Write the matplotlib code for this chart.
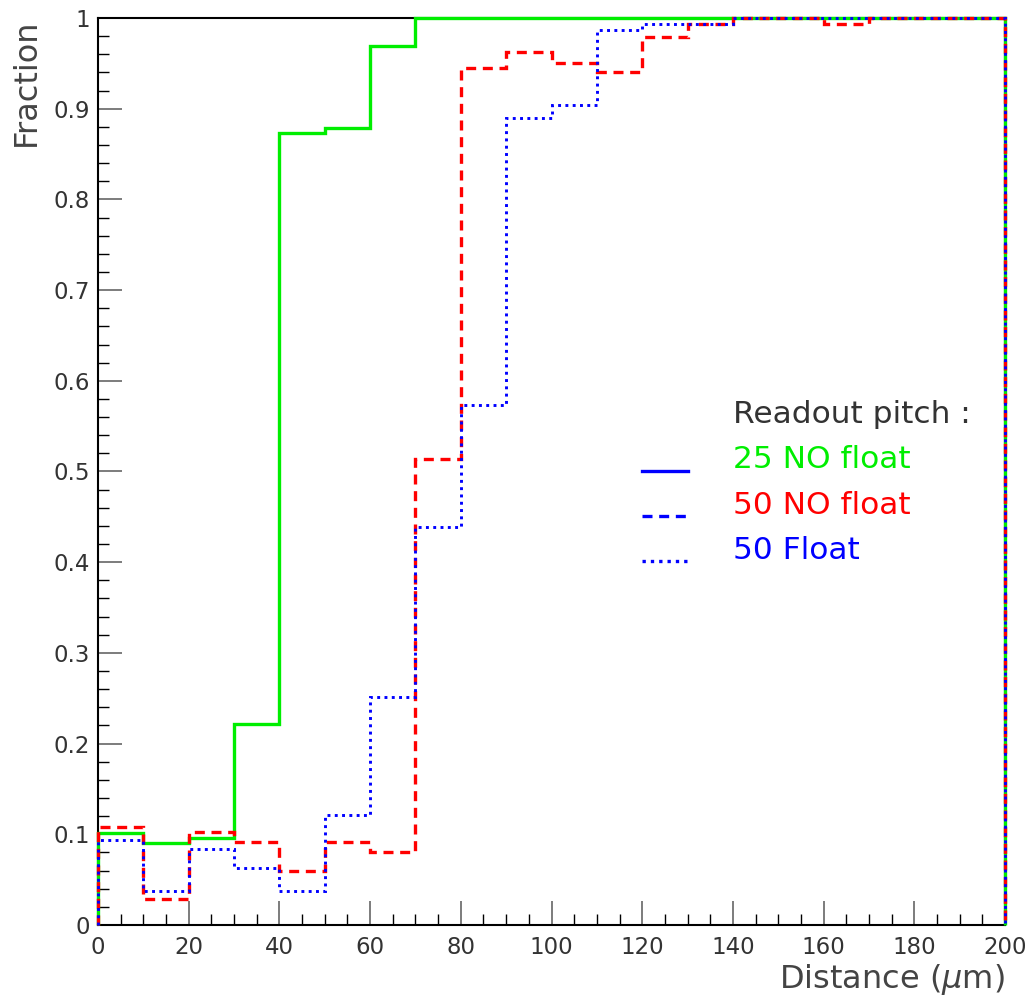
import matplotlib
matplotlib.use("Agg")
import matplotlib.pyplot as plt
from matplotlib.ticker import MultipleLocator, FuncFormatter
import numpy as np

edges = list(range(0, 210, 10))
green_25_nofloat = [0.101, 0.090, 0.096, 0.222, 0.873, 0.879, 0.969, 1.0, 1.0, 1.0,
                    1.0, 1.0, 1.0, 1.0, 1.0, 1.0, 1.0, 1.0, 1.0, 1.0]
red_50_nofloat = [0.108, 0.029, 0.102, 0.092, 0.060, 0.092, 0.081, 0.514, 0.945, 0.963,
                  0.950, 0.941, 0.979, 0.993, 1.0, 1.0, 0.993, 1.0, 1.0, 1.0]
blue_50_float = [0.094, 0.038, 0.084, 0.063, 0.038, 0.121, 0.251, 0.439, 0.573, 0.890,
                 0.904, 0.987, 0.993, 0.993, 1.0, 1.0, 1.0, 1.0, 1.0, 1.0]
legend_title = "Readout pitch :"
legend_labels = ["25 NO float", "50 NO float", "50 Float"]

plt.rcParams['font.family'] = ['DejaVu Sans']
fig = plt.figure(figsize=(10.33, 10.05), dpi=100)
ax = fig.add_axes([98/1033, 80/1005, 907/1033, 907/1005])

ax.stairs(green_25_nofloat, edges, baseline=0, color='#00ee00', lw=2.4, linestyle='-',
          zorder=3, clip_on=False)
ax.stairs(red_50_nofloat, edges, baseline=0, color='#ff0000', lw=2.4, linestyle=(0, (3, 2)),
          zorder=3.1, clip_on=False)
ax.stairs(blue_50_float, edges, baseline=0, color='#0000ff', lw=2.1, linestyle=(0, (1, 1.5)),
          zorder=3.2, clip_on=False)

ax.set_xlim(0, 200)
ax.set_ylim(0, 1)
ax.xaxis.set_major_locator(MultipleLocator(20))
ax.xaxis.set_minor_locator(MultipleLocator(5))
ax.yaxis.set_major_locator(MultipleLocator(0.1))
ax.yaxis.set_minor_locator(MultipleLocator(0.02))
ax.yaxis.set_major_formatter(FuncFormatter(lambda v, p: '%g' % round(v, 2)))
ax.tick_params(which='both', direction='in', top=False, right=False,
               labelsize=16.5, labelcolor='#333333')
ax.tick_params(axis='x', which='both', pad=8)
ax.tick_params(axis='y', which='both', pad=6)
ax.tick_params(which='major', length=17, width=1.2, color='#666666')
ax.tick_params(which='minor', length=8, width=1.0)
for s in ax.spines.values():
    s.set_linewidth(1.5)

ax.set_ylabel("Fraction", loc='top', fontsize=23, color='#444444', labelpad=8)
ax.set_xlabel(r"Distance ($\mu$m)", loc='right', fontsize=23, color='#444444', labelpad=2)

# legend
colors = ['#00ee00', '#ff0000', '#0000ff']
styles = ['-', (0, (3, 2)), (0, (1, 1.5))]
ax.text(0.70, 0.563, legend_title, transform=ax.transAxes, fontsize=22.5,
        color='#333333', va='center', ha='left')
ys = [0.513, 0.463, 0.413]
for lab, c, st, y in zip(legend_labels, colors, styles, ys):
    ax.text(0.70, y, lab, transform=ax.transAxes, fontsize=22.5, color=c,
            va='center', ha='left')
    ax.plot([0.60, 0.65], [y - 0.012, y - 0.012], transform=ax.transAxes,
            color='#0000ff', lw=2.4, linestyle=st)

fig.savefig("out.png", dpi=100)
